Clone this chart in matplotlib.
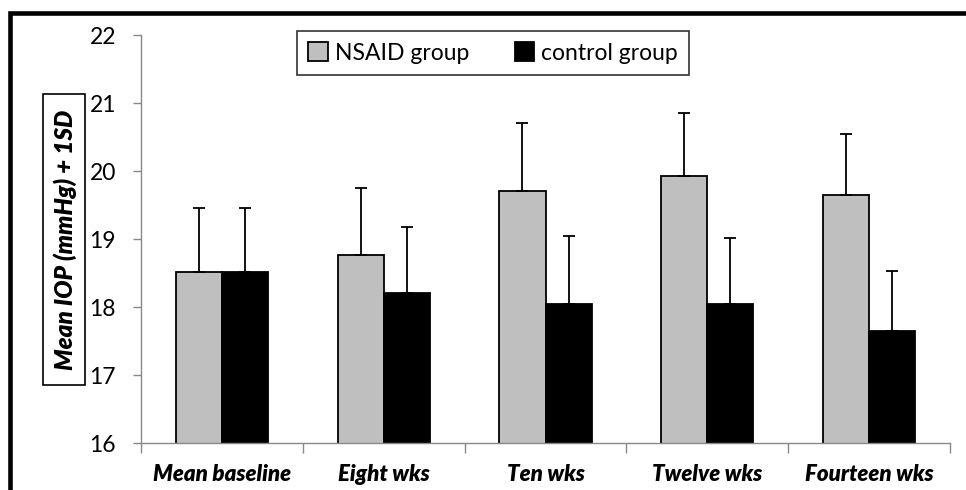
import numpy as np
import matplotlib
matplotlib.use('Agg')
import matplotlib.pyplot as plt
from matplotlib.patches import Rectangle

# values
categories = ['Mean baseline', 'Eight wks', 'Ten wks', 'Twelve wks', 'Fourteen wks']
nsaid_mean = [18.52, 18.77, 19.71, 19.92, 19.65]
nsaid_sd = [0.94, 0.98, 0.99, 0.94, 0.89]
control_mean = [18.51, 18.20, 18.05, 18.05, 17.64]
control_sd = [0.95, 0.97, 1.00, 0.96, 0.89]
yticks = [16, 17, 18, 19, 20, 21, 22]

plt.rcParams['font.family'] = ['Lato', 'DejaVu Sans']

W, H = 966, 490
fig = plt.figure(figsize=(W / 100, H / 100), dpi=100)
ax = fig.add_axes([141 / W, 1 - 443 / H, (950 - 141) / W, (443 - 35) / H])

x = np.arange(len(categories))
w = 0.285
err_kw = dict(ecolor='black', elinewidth=1.3, capsize=4.5, capthick=1.3)
ax.bar(x - w / 2, nsaid_mean, w, color='#bfbfbf', edgecolor='black',
       linewidth=1.3, label='NSAID group',
       yerr=[np.zeros(5), nsaid_sd], error_kw=err_kw, zorder=2)
ax.bar(x + w / 2, control_mean, w, color='black', edgecolor='black',
       linewidth=1.3, label='control group',
       yerr=[np.zeros(5), control_sd], error_kw=err_kw, zorder=2)

ax.set_ylim(16, 22)
ax.set_xlim(-0.5, len(categories) - 0.5)
ax.set_yticks(yticks)
ax.set_xticks(np.arange(len(categories) + 1) - 0.5)
ax.set_xticklabels([])
ax.set_xticks(x, minor=True)
ax.set_xticklabels(categories, minor=True, fontsize=16,
                   fontweight='heavy', fontstyle='italic')
ax.tick_params(axis='x', which='minor', length=0, pad=15)
ax.tick_params(axis='x', which='major', length=7, color='#898989', width=1)
ax.tick_params(axis='y', length=6, color='#898989', width=1, pad=12,
               labelsize=16.5)
for s in ['top', 'right']:
    ax.spines[s].set_visible(False)
for s in ['left', 'bottom']:
    ax.spines[s].set_color('#898989')
    ax.spines[s].set_linewidth(1)

# y-label in its own box
fig.patches.append(Rectangle((43 / W, 1 - 385 / H), 42 / W, 291 / H,
                             transform=fig.transFigure, fc='white',
                             ec='black', lw=1.2))
fig.text(65 / W, 1 - 240 / H, 'Mean IOP (mmHg) + 1SD', rotation=90,
         ha='center', va='center', fontsize=17.5, fontweight='heavy',
         fontstyle='italic')

leg = fig.legend(loc='center', bbox_to_anchor=(493 / W, 1 - 53 / H), ncol=2,
                 fontsize=16.5, frameon=True, fancybox=False, edgecolor='black',
                 handlelength=0.85, handleheight=0.85, handletextpad=0.3,
                 columnspacing=2.0, borderpad=0.5, borderaxespad=0)
leg.get_frame().set_linewidth(1.2)

# outer frame (cut off at right and bottom in the original)
fig.patches.append(Rectangle((10 / W, -0.1), 1.2, 1.1 - 13 / H,
                             transform=fig.transFigure, fill=False,
                             ec='black', lw=3.3))

fig.savefig('out.png', dpi=100)
